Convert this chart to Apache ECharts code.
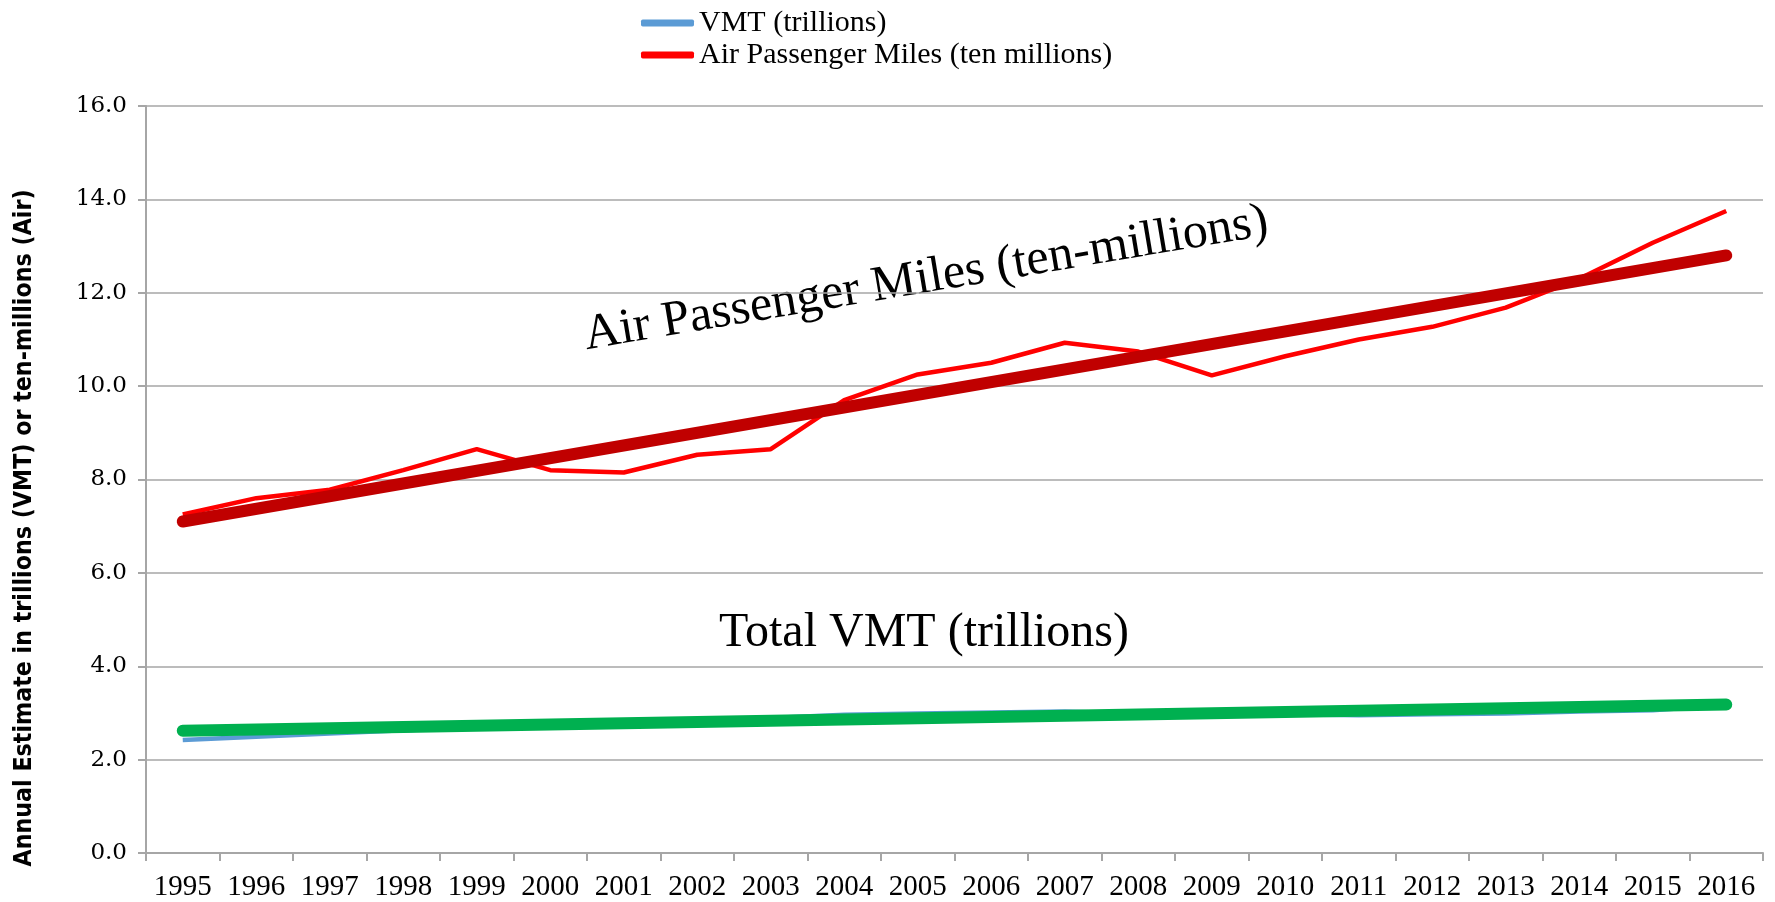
<!DOCTYPE html>
<html>
<head>
<meta charset="utf-8">
<script src="https://cdn.jsdelivr.net/npm/echarts@6/dist/echarts.min.js"></script>
<style>
  html, body { margin: 0; padding: 0; background: #fff; }
  #chart { width: 1775px; height: 902px; }
</style>
</head>
<body>
<div id="chart"></div>
<script>
// data
const years = ['1995', '1996', '1997', '1998', '1999', '2000', '2001', '2002', '2003', '2004', '2005',
  '2006', '2007', '2008', '2009', '2010', '2011', '2012', '2013', '2014', '2015', '2016']
const vmt = [2.42, 2.49, 2.56, 2.63, 2.69, 2.75, 2.79, 2.84, 2.89, 2.96, 2.99,
  3.01, 3.03, 2.98, 2.96, 2.97, 2.95, 2.97, 2.99, 3.03, 3.06, 3.17]
const airMiles = [7.25, 7.6, 7.78, 8.2, 8.65, 8.2, 8.15, 8.53, 8.65, 9.7, 10.25,
  10.5, 10.93, 10.74, 10.23, 10.64, 11.0, 11.27, 11.68, 12.3, 13.07, 13.75]
// trend lines: value at first and last year
const vmtTrend = [2.62, 3.18]
const airTrend = [7.1, 12.8]

const gridGray = '#A6A6A6'
const serif = 'Liberation Serif'

let chart = echarts.init(document.getElementById('chart'))

function trendData (ends) {
  return [[years[0], ends[0]], [years[years.length - 1], ends[1]]]
}

let option = {
  animation: false,
  grid: { left: 146, right: 12, top: 106, bottom: 49 },
  legend: {
    data: ['VMT (trillions)', 'Air Passenger Miles (ten millions)'],
    orient: 'vertical',
    left: 636,
    top: 2,
    icon: 'roundRect',
    itemWidth: 53,
    itemHeight: 7,
    itemGap: 0,
    textStyle: { fontFamily: serif, fontSize: 30, color: '#000', lineHeight: 32 }
  },
  xAxis: {
    type: 'category',
    data: years,
    boundaryGap: true,
    axisLine: { lineStyle: { color: gridGray, width: 2 } },
    axisTick: { show: true, length: 8, lineStyle: { color: gridGray, width: 2 } },
    axisLabel: { fontFamily: serif, fontSize: 29, color: '#000', margin: 20, interval: 0 },
    splitLine: { show: false }
  },
  yAxis: {
    type: 'value',
    min: 0,
    max: 16,
    interval: 2,
    axisLine: { show: true, lineStyle: { color: gridGray, width: 2 } },
    axisTick: { show: true, length: 8, lineStyle: { color: gridGray, width: 2 } },
    axisLabel: {
      fontFamily: 'DejaVu Serif', fontSize: 23, color: '#000', margin: 19,
      formatter: v => v.toFixed(1)
    },
    splitLine: { lineStyle: { color: gridGray, width: 1.5 } }
  },
  series: [
    {
      name: 'VMT (trillions)',
      type: 'line',
      data: vmt,
      symbol: 'none',
      itemStyle: { color: '#5B9BD5' },
      lineStyle: { color: '#5B9BD5', width: 4.5 }
    },
    {
      name: 'Air Passenger Miles (ten millions)',
      type: 'line',
      data: airMiles,
      symbol: 'none',
      itemStyle: { color: '#FF0000' },
      lineStyle: { color: '#FF0000', width: 4.5 }
    },
    {
      name: 'VMT trend',
      type: 'line',
      data: trendData(vmtTrend),
      symbol: 'none',
      lineStyle: { color: '#00B050', width: 12, cap: 'round' }
    },
    {
      name: 'Air trend',
      type: 'line',
      data: trendData(airTrend),
      symbol: 'none',
      lineStyle: { color: '#C00000', width: 12, cap: 'round' }
    }
  ],
  graphic: [
    {
      // y axis title, sits a bit lower than the axis middle
      type: 'text',
      x: 25,
      y: 528,
      rotation: Math.PI / 2,
      z: 10,
      style: {
        text: 'Annual Estimate in trillions (VMT) or ten-millions (Air)',
        fontFamily: 'Liberation Sans Narrow, DejaVu Sans Condensed, sans-serif',
        fontWeight: 'bold',
        fontSize: 24.7,
        fill: '#000',
        align: 'center', verticalAlign: 'middle',
        textAlign: 'center', textVerticalAlign: 'middle'
      }
    },
    {
      type: 'group',
      x: 926,
      y: 279,
      rotation: 9.5 * Math.PI / 180,
      z: 10,
      children: [
        { type: 'rect', shape: { x: -352, y: -39, width: 791, height: 76 }, style: { fill: '#fff' } },
        {
          type: 'text',
          style: {
            text: 'Air Passenger Miles (ten-millions)',
            x: 0, y: 0,
            fontFamily: serif, fontSize: 50, fill: '#000',
            align: 'center', verticalAlign: 'middle',
            textAlign: 'center', textVerticalAlign: 'middle'
          }
        }
      ]
    },
    {
      type: 'group',
      x: 924,
      y: 633,
      z: 10,
      children: [
        { type: 'rect', shape: { x: -230, y: -42, width: 463, height: 84 }, style: { fill: '#fff' } },
        {
          type: 'text',
          style: {
            text: 'Total VMT (trillions)',
            x: 0, y: 0,
            fontFamily: serif, fontSize: 48, fill: '#000',
            align: 'center', verticalAlign: 'middle',
            textAlign: 'center', textVerticalAlign: 'middle'
          }
        }
      ]
    }
  ]
}

chart.setOption(option)
</script>
</body>
</html>
